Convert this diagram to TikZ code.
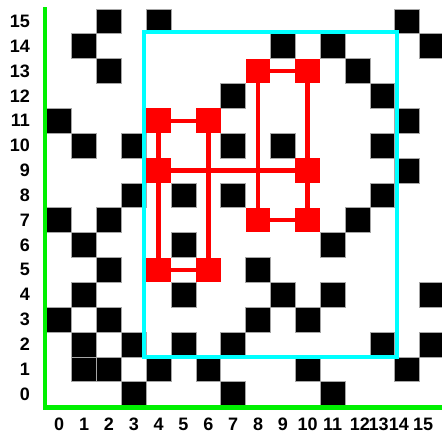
\documentclass[tikz,border=0pt]{standalone}
\usepackage{fontspec}
\setmainfont{Liberation Sans}
\definecolor{axisgreen}{RGB}{0,240,0}
\definecolor{boxcyan}{RGB}{0,255,255}
\begin{document}
\begin{tikzpicture}[x=24.85pt,y=24.85pt,
  blk/.style={fill=black,draw=gray!70,line width=0.6pt},
  redcell/.style={rectangle,fill=red,minimum size=24.6pt,inner sep=0pt,outer sep=0pt},
  link/.style={draw=red,line width=4.5pt},
  framebox/.style={draw=boxcyan,line width=4pt},
  axisline/.style={draw=axisgreen,line width=4.4pt},
  lbl/.style={font=\bfseries\fontsize{18}{18}\selectfont,inner sep=0pt}]
\useasboundingbox (-1.883,-1.105) rectangle (15.903,16.36);
% black cells
\foreach \c/\r in {2/15,4/15,14/15,
  1/14,9/14,11/14,15/14,
  2/13,12/13,
  7/12,13/12,
  0/11,14/11,
  1/10,3/10,7/10,9/10,13/10,
  14/9,
  3/8,5/8,7/8,13/8,
  0/7,2/7,12/7,
  1/6,5/6,11/6,
  2/5,8/5,
  1/4,5/4,9/4,11/4,15/4,
  0/3,2/3,8/3,10/3,
  1/2,3/2,5/2,7/2,13/2,15/2,
  1/1,2/1,4/1,6/1,10/1,14/1,
  3/0,7/0,11/0}
  \filldraw[blk] (\c,\r) rectangle ++(1,1);
% red cells
\node[redcell] (ra) at (4.5,11.5) {};
\node[redcell] (rb) at (6.5,11.5) {};
\node[redcell] (rc) at (4.5,9.5) {};
\node[redcell] (rd) at (10.5,9.5) {};
\node[redcell] (re) at (4.5,5.5) {};
\node[redcell] (rf) at (6.5,5.5) {};
\node[redcell] (rg) at (8.5,13.5) {};
\node[redcell] (rh) at (10.5,13.5) {};
\node[redcell] (ri) at (8.5,7.5) {};
\node[redcell] (rj) at (10.5,7.5) {};
% red links
\draw[link] (ra.center) -- (rb.center);
\draw[link] (ra.center) -- (rc.center) -- (re.center);
\draw[link] (rb.center) -- (rf.center);
\draw[link] (re.center) -- (rf.center);
\draw[link] (rc.center) -- (rd.center);
\draw[link] (rg.center) -- (rh.center);
\draw[link] (rg.center) -- (ri.center);
\draw[link] (rh.center) -- (rd.center) -- (rj.center);
\draw[link] (ri.center) -- (rj.center);
% cyan frame
\draw[framebox] (3.93,2.0) rectangle (14.08,15.07);
% green axes
\draw[axisline] (-0.072,16.07) -- (-0.072,-0.038) -- (15.95,-0.038);
% labels
\foreach \r in {0,...,15}
  \node[lbl,anchor=east] (yl\r) at (-0.676,\r+0.5) {\r};
\foreach \t/\x in {0/0.5,1/1.5,2/2.5,3/3.5,4/4.5,5/5.5,6/6.5,7/7.5,8/8.5,9/9.5,10/10.5,11/11.5,12/12.6,13/13.35,14/14.17,15/15.14}
  \node[lbl] (xl\t) at (\x,-0.718) {\t};
\end{tikzpicture}
\end{document}
